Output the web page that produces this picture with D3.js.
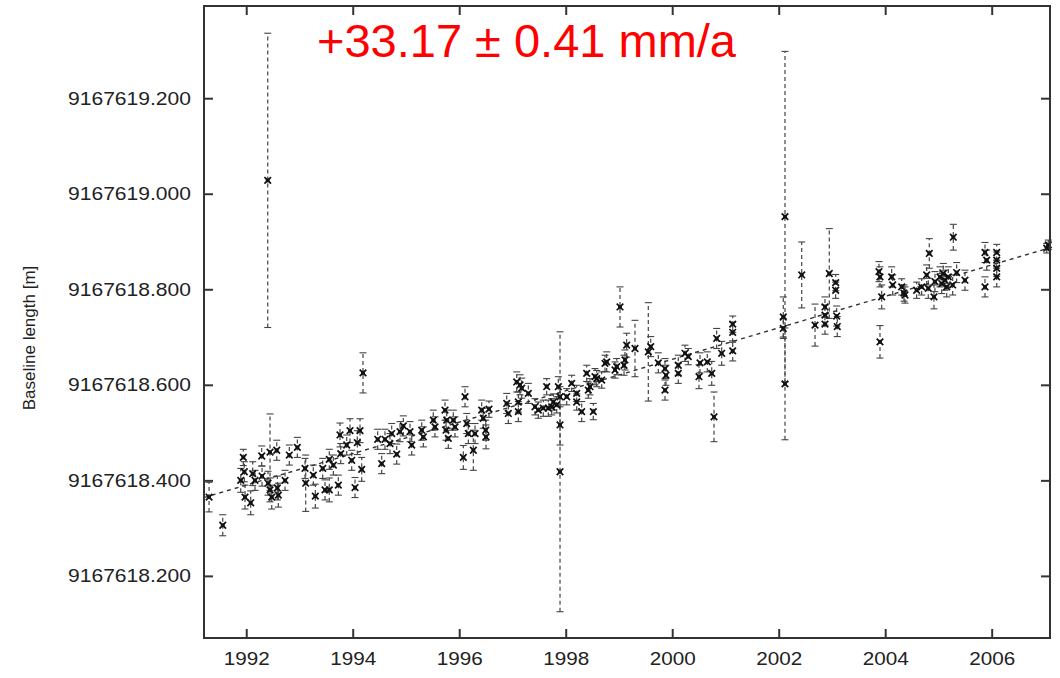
<!DOCTYPE html>
<html>
<head>
<meta charset="utf-8">
<script src="https://cdn.jsdelivr.net/npm/d3@7"></script>
<style>
  body { margin: 0; background: #fff; }
  svg { display: block; font-family: "Liberation Sans", Arial, sans-serif; }
</style>
</head>
<body>
<div id="chart"></div>
<script>
// Baseline length time series with linear trend

const width = 1060,
    height = 678,
    margin = ({ top: 6, right: 10, bottom: 40, left: 204 });

// epoch (decimal year), length above 9167618 m, 1-sigma error (m)
const baseLength = 9167618;
const epoch = [
  1991.302, 1991.559, 1991.897, 1991.945, 1991.964, 1991.977, 1992.084, 1992.122, 1992.165, 1992.291,
  1992.297, 1992.404, 1992.447, 1992.409, 1992.447, 1992.479, 1992.573, 1992.584, 1992.603, 1992.729,
  1992.809, 1992.960, 1993.104, 1993.117, 1993.260, 1993.298, 1993.437, 1993.480, 1993.560, 1993.560,
  1993.636, 1993.730, 1993.761, 1993.775, 1993.887, 1993.949, 1993.981, 1994.043, 1994.086, 1994.137,
  1994.169, 1994.193, 1994.469, 1994.544, 1994.606, 1994.700, 1994.732, 1994.826, 1994.888, 1994.950,
  1995.076, 1995.108, 1995.296, 1995.326, 1995.513, 1995.545, 1995.733, 1995.765, 1995.752, 1995.795,
  1995.889, 1995.921, 1996.077, 1996.109, 1996.141, 1996.171, 1996.265, 1996.297, 1996.422, 1996.452,
  1996.497, 1996.503, 1996.559, 1996.892, 1996.922, 1997.080, 1997.142, 1997.174, 1997.110, 1997.110,
  1997.298, 1997.423, 1997.485, 1997.579, 1997.643, 1997.673, 1997.737, 1997.767, 1997.831, 1997.861,
  1997.893, 1997.893, 1997.893, 1998.019, 1998.112, 1998.206, 1998.206, 1998.300, 1998.394, 1998.424,
  1998.456, 1998.518, 1998.550, 1998.582, 1998.676, 1998.738, 1998.770, 1998.926, 1998.958, 1999.020,
  1999.095, 1999.113, 1999.145, 1999.301, 1999.551, 1999.596, 1999.739, 1999.865, 1999.883, 1999.865,
  2000.114, 2000.114, 2000.240, 2000.302, 2000.522, 2000.503, 2000.659, 2000.742, 2000.785, 2000.835,
  2000.929, 2001.136, 2001.136, 2001.136, 2002.086, 2002.086, 2002.118, 2002.118, 2002.432, 2002.682,
  2002.869, 2002.869, 2002.869, 2002.950, 2003.070, 2003.070, 2003.089, 2003.100, 2003.883, 2003.902,
  2003.934, 2003.902, 2004.122, 2004.141, 2004.310, 2004.353, 2004.372, 2004.591, 2004.685, 2004.779,
  2004.809, 2004.828, 2004.916, 2004.935, 2005.029, 2005.061, 2005.091, 2005.123, 2005.155, 2005.185,
  2005.267, 2005.279, 2005.342, 2005.498, 2005.874, 2005.906, 2005.874, 2006.094, 2006.094, 2006.094,
  2006.094, 2007.033, 2007.063
];
const lengthAbove = [
  0.365, 0.306, 0.400, 0.448, 0.418, 0.365, 0.353, 0.414, 0.400, 0.451,
  0.409, 1.028, 0.459, 0.394, 0.380, 0.365, 0.463, 0.384, 0.369, 0.400,
  0.453, 0.469, 0.425, 0.394, 0.411, 0.367, 0.425, 0.380, 0.380, 0.444,
  0.432, 0.390, 0.495, 0.456, 0.474, 0.504, 0.442, 0.385, 0.479, 0.504,
  0.423, 0.625, 0.486, 0.435, 0.486, 0.477, 0.498, 0.455, 0.502, 0.514,
  0.502, 0.474, 0.505, 0.491, 0.526, 0.512, 0.547, 0.526, 0.505, 0.488,
  0.526, 0.512, 0.448, 0.575, 0.519, 0.498, 0.463, 0.498, 0.547, 0.530,
  0.505, 0.491, 0.549, 0.561, 0.540, 0.606, 0.600, 0.593, 0.564, 0.544,
  0.582, 0.554, 0.547, 0.551, 0.596, 0.551, 0.554, 0.564, 0.558, 0.596,
  0.575, 0.516, 0.418, 0.575, 0.603, 0.582, 0.564, 0.544, 0.624, 0.589,
  0.596, 0.544, 0.617, 0.613, 0.610, 0.645, 0.648, 0.631, 0.638, 0.763,
  0.641, 0.652, 0.683, 0.676, 0.669, 0.680, 0.646, 0.634, 0.620, 0.589,
  0.641, 0.624, 0.666, 0.659, 0.646, 0.617, 0.648, 0.624, 0.533, 0.697,
  0.666, 0.727, 0.710, 0.671, 0.742, 0.718, 0.952, 0.602, 0.830, 0.725,
  0.763, 0.746, 0.727, 0.833, 0.814, 0.798, 0.744, 0.722, 0.837, 0.826,
  0.784, 0.690, 0.826, 0.809, 0.805, 0.792, 0.788, 0.798, 0.805, 0.830,
  0.802, 0.875, 0.784, 0.816, 0.826, 0.812, 0.833, 0.819, 0.805, 0.826,
  0.809, 0.909, 0.835, 0.819, 0.877, 0.861, 0.805, 0.877, 0.861, 0.844,
  0.826, 0.886, 0.893
];
const sigma = [
  0.031, 0.022, 0.025, 0.017, 0.021, 0.025, 0.025, 0.025, 0.021, 0.021,
  0.021, 0.308, 0.080, 0.025, 0.025, 0.025, 0.021, 0.025, 0.025, 0.021,
  0.021, 0.021, 0.021, 0.059, 0.021, 0.025, 0.021, 0.021, 0.025, 0.021,
  0.021, 0.021, 0.025, 0.021, 0.021, 0.025, 0.021, 0.021, 0.025, 0.025,
  0.025, 0.042, 0.021, 0.021, 0.021, 0.021, 0.021, 0.021, 0.021, 0.021,
  0.021, 0.021, 0.021, 0.021, 0.021, 0.021, 0.021, 0.021, 0.021, 0.021,
  0.021, 0.021, 0.025, 0.021, 0.021, 0.021, 0.042, 0.021, 0.021, 0.021,
  0.021, 0.025, 0.017, 0.021, 0.021, 0.021, 0.021, 0.021, 0.021, 0.021,
  0.021, 0.017, 0.017, 0.017, 0.017, 0.017, 0.017, 0.017, 0.017, 0.021,
  0.021, 0.042, 0.293, 0.017, 0.017, 0.017, 0.017, 0.021, 0.017, 0.017,
  0.017, 0.017, 0.017, 0.017, 0.017, 0.017, 0.021, 0.017, 0.017, 0.042,
  0.021, 0.021, 0.025, 0.059, 0.103, 0.021, 0.021, 0.021, 0.021, 0.021,
  0.021, 0.021, 0.017, 0.017, 0.021, 0.025, 0.021, 0.025, 0.052, 0.021,
  0.025, 0.017, 0.021, 0.021, 0.042, 0.021, 0.346, 0.117, 0.069, 0.044,
  0.021, 0.021, 0.021, 0.094, 0.017, 0.017, 0.021, 0.021, 0.021, 0.021,
  0.025, 0.034, 0.021, 0.021, 0.017, 0.017, 0.017, 0.017, 0.017, 0.021,
  0.021, 0.031, 0.025, 0.021, 0.021, 0.021, 0.021, 0.021, 0.021, 0.021,
  0.021, 0.027, 0.021, 0.021, 0.021, 0.021, 0.021, 0.017, 0.017, 0.017,
  0.021, 0.010, 0.010
];

// linear fit end points
const trendEpoch = [1991.207, 2007.095];
const trendLength = [0.364, 0.887];

const yearTicks = [1992, 1994, 1996, 1998, 2000, 2002, 2004, 2006];
const lengthTicks = [9167618.2, 9167618.4, 9167618.6, 9167618.8, 9167619.0, 9167619.2];
const rateLabel = "+33.17 \u00b1 0.41 mm/a";

const data = epoch.map((t, i) => ({
  t: t,
  v: baseLength + lengthAbove[i],
  s: sigma[i]
}));

const svg = d3.select("#chart")
  .append("svg")
  .attr("width", width)
  .attr("height", height)
  .attr("viewBox", [0, 0, width, height]);

const x = d3.scaleLinear()
  .domain([1991.207, 2007.095])
  .range([margin.left, width - margin.right]);

const y = d3.scaleLinear()
  .domain([baseLength + 0.070, baseLength + 1.393])
  .range([height - margin.bottom, margin.top]);

// error bars
const bars = svg.append("g").attr("class", "errorbars");

bars.selectAll("line.bar")
  .data(data)
  .join("line")
  .attr("class", "bar")
  .attr("x1", d => x(d.t))
  .attr("x2", d => x(d.t))
  .attr("y1", d => y(d.v - d.s))
  .attr("y2", d => y(d.v + d.s))
  .attr("stroke", "#444")
  .attr("stroke-width", 1.2)
  .attr("stroke-dasharray", "4,3");

for (let end of [-1, 1]) {
  bars.selectAll("line.cap" + (end > 0 ? "t" : "b"))
    .data(data)
    .join("line")
    .attr("class", "cap" + (end > 0 ? "t" : "b"))
    .attr("x1", d => x(d.t) - 3.5)
    .attr("x2", d => x(d.t) + 3.5)
    .attr("y1", d => y(d.v + end * d.s))
    .attr("y2", d => y(d.v + end * d.s))
    .attr("stroke", "#444")
    .attr("stroke-width", 1.1);
}

// trend line
svg.append("line")
  .attr("x1", x(trendEpoch[0]))
  .attr("x2", x(trendEpoch[1]))
  .attr("y1", y(baseLength + trendLength[0]))
  .attr("y2", y(baseLength + trendLength[1]))
  .attr("stroke", "#333")
  .attr("stroke-width", 1.4)
  .attr("stroke-dasharray", "4,4");

// points
const pts = svg.append("g").attr("class", "points");
const timesSym = d3.symbol().type(d3.symbolTimes || d3.symbolCross).size(30);
const squareSym = d3.symbol().type(d3.symbolSquare).size(16);

pts.selectAll("path.sq")
  .data(data)
  .join("path")
  .attr("class", "sq")
  .attr("transform", d => `translate(${x(d.t)},${y(d.v)})`)
  .attr("d", squareSym)
  .attr("fill", "#333");

pts.selectAll("path.x")
  .data(data)
  .join("path")
  .attr("class", "x")
  .attr("transform", d => `translate(${x(d.t)},${y(d.v)})`)
  .attr("d", timesSym)
  .attr("fill", "none")
  .attr("stroke", "#111")
  .attr("stroke-width", 1.7);

// axes (ticks point inwards on all four sides)
const fmt = d3.format(".3f");

const gx = svg.append("g")
  .attr("transform", `translate(0,${height - margin.bottom})`)
  .call(d3.axisBottom(x).tickValues(yearTicks).tickFormat(d3.format("d"))
    .tickSizeInner(-9).tickSizeOuter(0).tickPadding(14));

const gy = svg.append("g")
  .attr("transform", `translate(${margin.left},0)`)
  .call(d3.axisLeft(y).tickValues(lengthTicks).tickFormat(fmt)
    .tickSizeInner(-9).tickSizeOuter(0).tickPadding(13));

svg.append("g")
  .attr("transform", `translate(0,${margin.top})`)
  .call(d3.axisTop(x).tickValues(yearTicks).tickFormat("")
    .tickSizeInner(-9).tickSizeOuter(0));

svg.append("g")
  .attr("transform", `translate(${width - margin.right},0)`)
  .call(d3.axisRight(y).tickValues(lengthTicks).tickFormat("")
    .tickSizeInner(-9).tickSizeOuter(0));

svg.selectAll(".domain").remove();
svg.selectAll(".tick line").attr("stroke", "#333").attr("stroke-width", 2);

gx.selectAll("text")
  .attr("font-size", 18.5)
  .attr("fill", "#222")
  .attr("textLength", 46)
  .attr("lengthAdjust", "spacingAndGlyphs");

gy.selectAll("text")
  .attr("font-size", 18.5)
  .attr("fill", "#222")
  .attr("textLength", 123)
  .attr("lengthAdjust", "spacingAndGlyphs");

// frame
svg.append("rect")
  .attr("x", margin.left)
  .attr("y", margin.top)
  .attr("width", width - margin.left - margin.right)
  .attr("height", height - margin.top - margin.bottom)
  .attr("fill", "none")
  .attr("stroke", "#333")
  .attr("stroke-width", 2);

// axis title
svg.append("text")
  .attr("transform", "translate(35,338) rotate(-90)")
  .attr("text-anchor", "middle")
  .attr("font-size", 17)
  .attr("fill", "#222")
  .text("Baseline length [m]");

// rate label
svg.append("text")
  .attr("x", 317)
  .attr("y", 57)
  .attr("font-size", 47)
  .attr("fill", "#ff0000")
  .text(rateLabel);
</script>
</body>
</html>
